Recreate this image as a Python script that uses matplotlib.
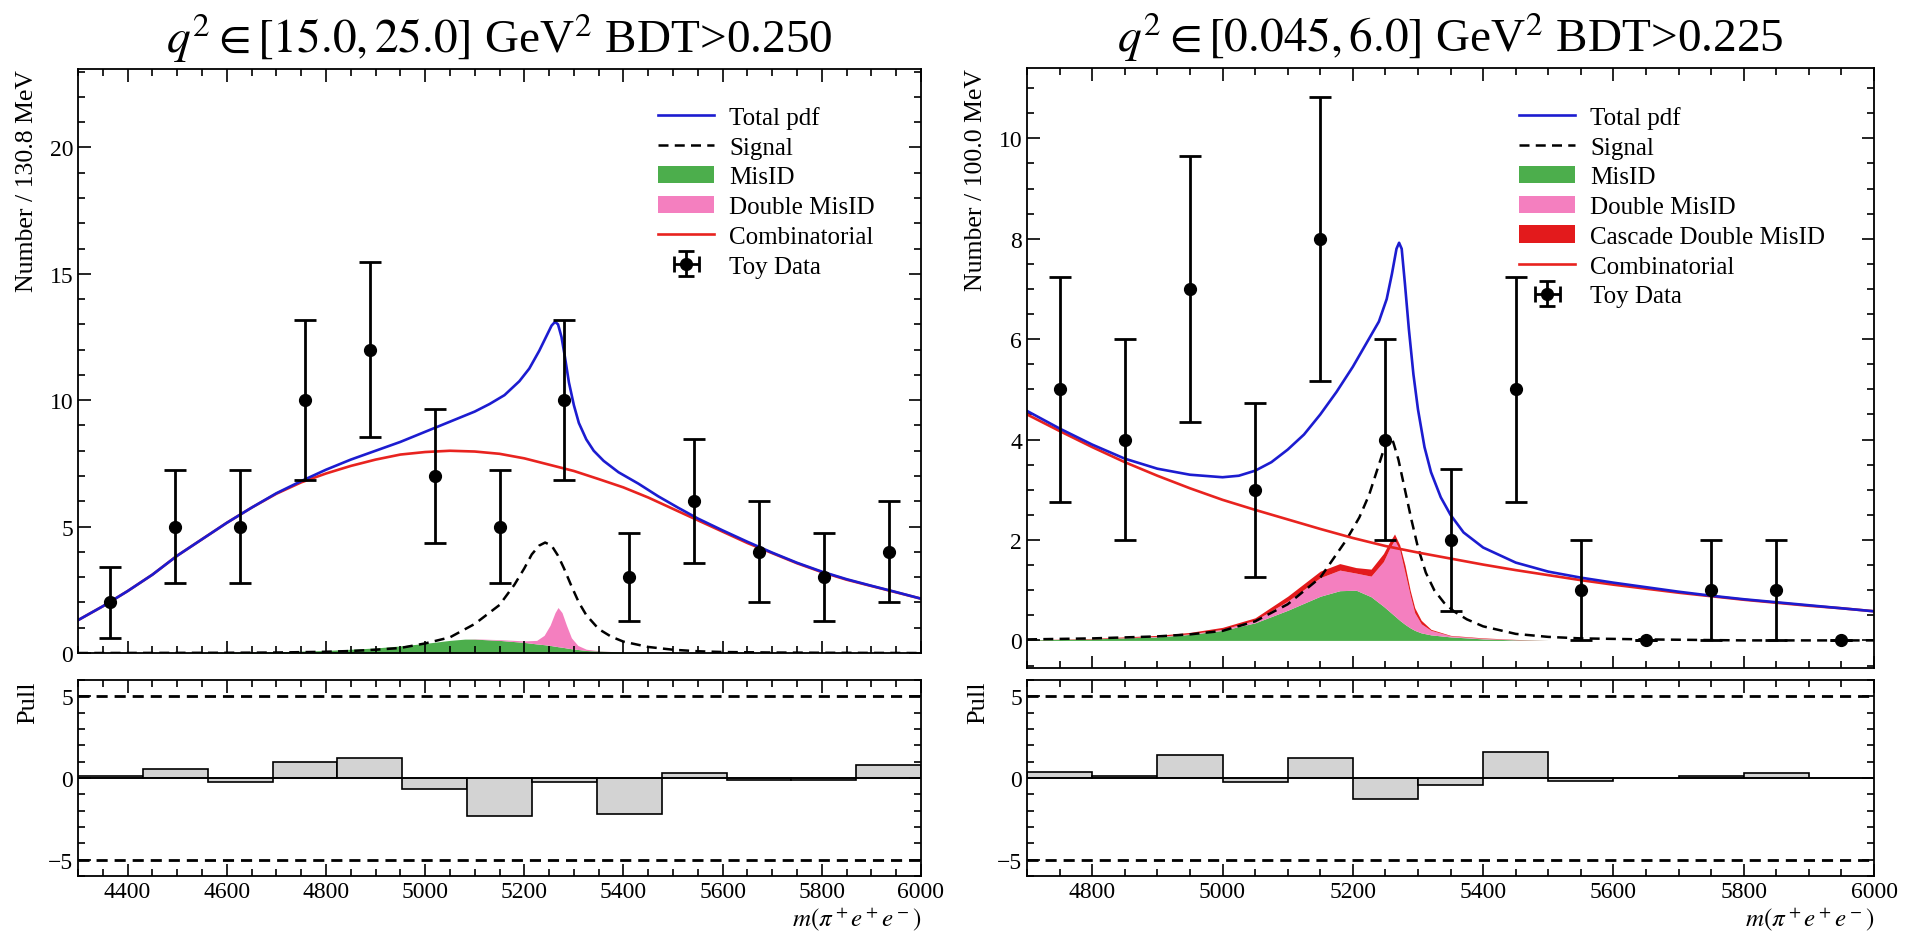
import numpy as np
import matplotlib
matplotlib.use("Agg")
import matplotlib.pyplot as plt
from matplotlib.ticker import MultipleLocator

plt.rcParams["font.family"] = "serif"
plt.rcParams["font.serif"] = ["Liberation Serif", "DejaVu Serif"]
plt.rcParams["mathtext.fontset"] = "stix"

# ---- high q2 bin, BDT>0.250 ----
hi_edges = [4300.0, 4430.8, 4561.6, 4692.4, 4823.2, 4954.0, 5084.8, 5215.6,
            5346.4, 5477.2, 5608.0, 5738.8, 5869.6, 6000.4]
hi_counts = [2, 5, 5, 10, 12, 7, 5, 10, 3, 6, 4, 3, 4]
hi_pull = [0.1, 0.55, -0.25, 1.0, 1.2, -0.65, -2.3, -0.25, -2.2, 0.3, -0.1, -0.15, 0.8]

hi_x = [4300, 4350, 4400, 4450, 4500, 4550, 4600, 4650, 4700, 4750, 4800, 4850,
        4900, 4950, 5000, 5050, 5100, 5150, 5200, 5250, 5300, 5350, 5400, 5450,
        5500, 5550, 5600, 5650, 5700, 5750, 5800, 5850, 5900, 5950, 6000]
hi_comb = [1.3, 1.85, 2.45, 3.1, 3.85, 4.5, 5.15, 5.75, 6.3, 6.75, 7.1, 7.4,
           7.65, 7.85, 7.95, 8.0, 7.97, 7.88, 7.7, 7.45, 7.2, 6.88, 6.55, 6.15,
           5.7, 5.25, 4.8, 4.35, 3.95, 3.55, 3.2, 2.9, 2.65, 2.4, 2.15]

hi_tot_x = [4300, 4350, 4400, 4450, 4500, 4550, 4600, 4650, 4700, 4750, 4800,
            4850, 4900, 4950, 5000, 5050, 5100, 5130, 5160, 5190, 5210, 5230,
            5245, 5255, 5262, 5268, 5275, 5282, 5290, 5300, 5310, 5325, 5340,
            5360, 5390, 5430, 5470, 5510, 5550, 5600, 5650, 5700, 5750, 5800,
            5850, 5900, 5950, 6000]
hi_total = [1.3, 1.85, 2.45, 3.1, 3.85, 4.5, 5.15, 5.75, 6.32, 6.8, 7.25,
            7.65, 8.0, 8.35, 8.75, 9.15, 9.55, 9.85, 10.2, 10.75, 11.25, 11.95,
            12.55, 12.95, 13.1, 13.0, 12.5, 11.7, 10.7, 9.8, 9.1, 8.45, 8.0,
            7.6, 7.15, 6.7, 6.2, 5.75, 5.32, 4.85, 4.4, 3.97, 3.57, 3.22,
            2.92, 2.66, 2.41, 2.15]

hi_sig_x = [4300, 4600, 4700, 4800, 4850, 4900, 4950, 5000, 5050, 5100, 5150,
            5180, 5200, 5215, 5230, 5242, 5255, 5268, 5280, 5295, 5310, 5325,
            5350, 5375, 5400, 5450, 5500, 5550, 5600, 5700, 5800, 6000]
hi_signal = [0.0, 0.01, 0.02, 0.05, 0.08, 0.13, 0.2, 0.38, 0.62, 1.15, 1.9,
             2.7, 3.35, 3.9, 4.25, 4.37, 4.25, 3.85, 3.35, 2.65, 2.0, 1.5,
             0.95, 0.65, 0.45, 0.24, 0.13, 0.07, 0.04, 0.02, 0.01, 0.0]

hi_bkg_x = [4300, 4500, 4600, 4700, 4800, 4900, 4950, 5000, 5050, 5080, 5100,
            5150, 5200, 5225, 5240, 5252, 5262, 5268, 5276, 5285, 5295, 5308,
            5325, 5350, 5400, 5450, 5500, 6000]
hi_misid = [0, 0, 0.02, 0.05, 0.1, 0.2, 0.28, 0.38, 0.5, 0.55, 0.55,
            0.5, 0.42, 0.36, 0.33, 0.3, 0.27, 0.25, 0.23, 0.2, 0.17, 0.14,
            0.1, 0.08, 0.03, 0.01, 0, 0]
hi_dmisid = [0, 0, 0.02, 0.05, 0.1, 0.2, 0.28, 0.38, 0.5, 0.55, 0.56,
             0.53, 0.48, 0.5, 0.7, 1.1, 1.6, 1.8, 1.6, 1.1, 0.6, 0.3,
             0.15, 0.09, 0.03, 0.01, 0, 0]

# ---- low q2 bin, BDT>0.225 ----
lo_edges = [4700, 4800, 4900, 5000, 5100, 5200, 5300, 5400, 5500, 5600, 5700,
            5800, 5900, 6000]
lo_counts = [5, 4, 7, 3, 8, 4, 2, 5, 1, 0, 1, 1, 0]
lo_pull = [0.35, 0.1, 1.4, -0.25, 1.2, -1.3, -0.45, 1.6, -0.2, 0.0, 0.15, 0.3, 0.0]

lo_x = [4700, 4750, 4800, 4850, 4900, 4950, 5000, 5050, 5100, 5150, 5200, 5250,
        5300, 5350, 5400, 5450, 5500, 5550, 5600, 5650, 5700, 5750, 5800, 5850,
        5900, 5950, 6000]
lo_comb = [4.5, 4.17, 3.85, 3.55, 3.28, 3.03, 2.8, 2.6, 2.41, 2.22, 2.04, 1.88,
           1.75, 1.63, 1.51, 1.4, 1.3, 1.2, 1.11, 1.03, 0.95, 0.88, 0.81, 0.75,
           0.69, 0.64, 0.58]

lo_tot_x = [4700, 4750, 4800, 4850, 4900, 4950, 5000, 5025, 5050, 5075, 5100,
            5125, 5150, 5175, 5200, 5220, 5240, 5252, 5260, 5267, 5271, 5275,
            5280, 5286, 5293, 5300, 5310, 5320, 5335, 5350, 5370, 5400, 5450,
            5500, 5550, 5600, 5650, 5700, 5750, 5800, 5850, 5900, 5950, 6000]
lo_total = [4.57, 4.22, 3.9, 3.62, 3.42, 3.3, 3.25, 3.28, 3.38, 3.55, 3.8,
            4.1, 4.5, 4.95, 5.45, 5.9, 6.35, 6.8, 7.3, 7.8, 7.92, 7.8,
            7.1, 6.2, 5.3, 4.6, 3.85, 3.35, 2.85, 2.5, 2.15, 1.85, 1.55,
            1.37, 1.25, 1.15, 1.06, 0.97, 0.89, 0.82, 0.76, 0.7, 0.64, 0.58]

lo_sig_x = [4700, 4800, 4900, 4950, 5000, 5050, 5100, 5150, 5190, 5210, 5225,
            5240, 5250, 5256, 5262, 5270, 5280, 5290, 5300, 5312, 5325, 5340,
            5355, 5375, 5400, 5450, 5500, 5550, 5650, 5800, 6000]
lo_signal = [0.02, 0.04, 0.08, 0.12, 0.19, 0.38, 0.72, 1.25, 2.0, 2.45, 2.9,
             3.5, 3.9, 4.05, 3.95, 3.6, 3.0, 2.4, 1.85, 1.35, 1.0, 0.75,
             0.58, 0.42, 0.28, 0.13, 0.07, 0.04, 0.02, 0.0, 0.0]

lo_bkg_x = [4700, 4800, 4900, 4950, 5000, 5050, 5100, 5150, 5180, 5205, 5228,
            5247, 5256, 5264, 5272, 5280, 5288, 5295, 5305, 5320, 5350, 5400,
            5450, 5500, 6000]
lo_misid = [0.01, 0.03, 0.07, 0.12, 0.2, 0.35, 0.6, 0.88, 0.99, 1.0, 0.87,
            0.68, 0.58, 0.49, 0.4, 0.32, 0.25, 0.2, 0.15, 0.11, 0.07, 0.03,
            0.01, 0.0, 0.0]
lo_dmisid = [0.01, 0.03, 0.08, 0.13, 0.22, 0.4, 0.78, 1.25, 1.4, 1.34, 1.28,
             1.57, 1.82, 2.0, 1.8, 1.35, 0.9, 0.55, 0.33, 0.2, 0.09, 0.04,
             0.015, 0.0, 0.0]
lo_cascade = [0.01, 0.04, 0.1, 0.16, 0.26, 0.45, 0.88, 1.38, 1.53, 1.45, 1.42,
              1.73, 1.95, 2.12, 1.9, 1.5, 1.0, 0.65, 0.4, 0.22, 0.1, 0.05,
              0.02, 0.0, 0.0]

blue = "#1c1cd0"
red = "#e8231f"
green = "#4cae4c"
pink = "#f47fbf"
casc = "#e31a1c"

fig = plt.figure(figsize=(19.08, 9.37), dpi=100)


def style(ax, xmaj, xmin, ymaj, ymin):
    ax.xaxis.set_major_locator(MultipleLocator(xmaj))
    ax.xaxis.set_minor_locator(MultipleLocator(xmin))
    ax.yaxis.set_major_locator(MultipleLocator(ymaj))
    ax.yaxis.set_minor_locator(MultipleLocator(ymin))
    ax.tick_params(which="both", direction="in", top=True, right=True,
                   labelsize=17, width=1.2)
    ax.tick_params(which="major", length=9)
    ax.tick_params(which="minor", length=5)
    for s in ax.spines.values():
        s.set_linewidth(1.3)


def panel(rect_main, rect_pull, title, ylabel, xlim, ylim, ymaj, ymin,
          edges, counts, pull, comb_x, comb, tot_x, tot, sig_x, sig,
          bkg_x, stack, names, colors, leg_x):
    ax = fig.add_axes(rect_main)
    axp = fig.add_axes(rect_pull)
    edges = np.array(edges)
    centers = 0.5 * (edges[1:] + edges[:-1])
    counts = np.array(counts, dtype=float)

    lo = np.zeros(len(bkg_x))
    fills = []
    for top, c in zip(stack, colors):
        fills.append(ax.fill_between(bkg_x, lo, top, color=c, lw=0))
        lo = np.array(top)
    h_sig, = ax.plot(sig_x, sig, color="k", ls="--", lw=1.8, dashes=(4, 2.5))
    h_comb, = ax.plot(comb_x, comb, color=red, lw=1.9)
    h_tot, = ax.plot(tot_x, tot, color=blue, lw=1.9)
    ax.errorbar(centers, counts, yerr=np.sqrt(counts), fmt="o", color="k",
                ms=8.5, elinewidth=2, capsize=8, capthick=2, zorder=5)
    h_data = ax.errorbar([np.nan], [np.nan], xerr=[1], yerr=[1], fmt="o",
                         color="k", ms=8.5, elinewidth=2, capsize=6, capthick=2)

    handles = [h_tot, h_sig] + fills + [h_comb, h_data]
    labels = ["Total pdf", "Signal"] + names + ["Combinatorial", "Toy Data"]
    ax.legend(handles, labels, loc="upper left", frameon=False, fontsize=18,
              labelspacing=0.29, handlelength=2.25, handletextpad=0.6,
              borderpad=0, borderaxespad=0, bbox_to_anchor=(leg_x, 0.937))

    ax.set_xlim(*xlim)
    ax.set_ylim(*ylim)
    style(ax, 200, 50, ymaj, ymin)
    ax.tick_params(labelbottom=False)
    ax.set_ylabel(ylabel, fontsize=18.5, loc="top", labelpad=8)
    ax.set_title(title, fontsize=34, pad=12)

    axp.bar(edges[:-1], pull, width=np.diff(edges), align="edge",
            color="#d3d3d3", edgecolor="k", lw=1.2)
    axp.axhline(0, color="k", lw=1.2)
    for v in (5, -5):
        axp.axhline(v, color="k", ls="--", lw=2, dashes=(4, 2.5))
    axp.set_xlim(*xlim)
    axp.set_ylim(-6, 6)
    style(axp, 200, 50, 5, 1)
    axp.set_ylabel("Pull", fontsize=19, loc="top", labelpad=6)
    axp.set_xlabel(r"$m(\pi^+e^+e^-)$", fontsize=18, loc="right", labelpad=2)


panel([0.0409, 0.302, 0.4418, 0.6233], [0.0409, 0.064, 0.4418, 0.2092],
      r"$q^2 \in [15.0, 25.0]$ GeV$^2$ BDT>0.250", "Number / 130.8 MeV",
      (4300, 6000), (0, 23.1), 5, 1,
      hi_edges, hi_counts, hi_pull, hi_x, hi_comb, hi_tot_x, hi_total,
      hi_sig_x, hi_signal, hi_bkg_x, [hi_misid, hi_dmisid],
      ["MisID", "Double MisID"], [green, pink], 0.688)

panel([0.5383, 0.286, 0.4439, 0.6403], [0.5383, 0.064, 0.4439, 0.2092],
      r"$q^2 \in [0.045, 6.0]$ GeV$^2$ BDT>0.225", "Number / 100.0 MeV",
      (4700, 6000), (-0.55, 11.4), 2, 0.5,
      lo_edges, lo_counts, lo_pull, lo_x, lo_comb, lo_tot_x, lo_total,
      lo_sig_x, lo_signal, lo_bkg_x, [lo_misid, lo_dmisid, lo_cascade],
      ["MisID", "Double MisID", "Cascade Double MisID"], [green, pink, casc],
      0.581)

fig.savefig("out.png", dpi=100)
